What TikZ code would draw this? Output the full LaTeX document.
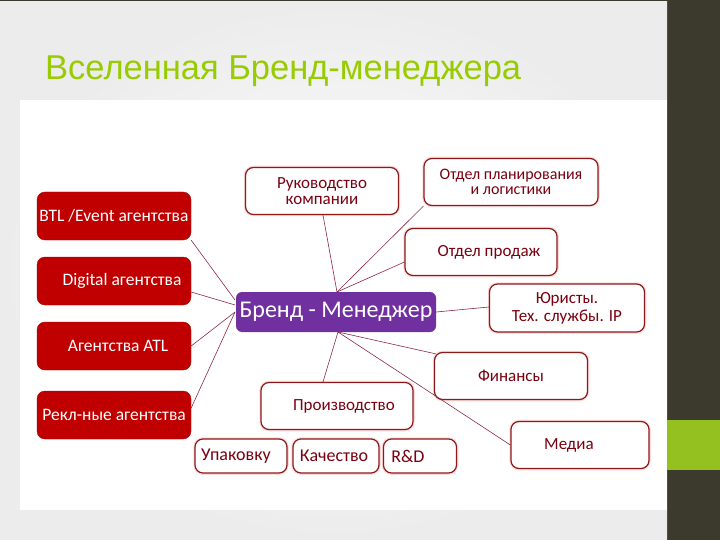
\documentclass[tikz,border=0pt]{standalone}
\usepackage{fontspec}
\setmainfont{Carlito}
\newfontfamily\carlito{Carlito}
\newfontfamily\titlefont{Liberation Sans}
\usetikzlibrary{calc}
\definecolor{darkbg}{HTML}{3C3A2C}
\definecolor{greenbar}{HTML}{94C11F}
\definecolor{titlegreen}{HTML}{99CC00}
\definecolor{boxred}{HTML}{C00000}
\definecolor{bordred}{HTML}{8B1A1A}
\definecolor{txtred}{HTML}{7A0010}
\definecolor{bmpurple}{HTML}{7030A0}
\definecolor{linkred}{HTML}{8B2A45}
\begin{document}
\begin{tikzpicture}[x=1pt,y=-1pt,
  redbox/.style={rounded corners=8pt, fill=boxred, draw=boxred!85!black, text=white,
    font=\carlito\fontsize{17.5}{19}\selectfont, inner sep=0pt,
    minimum width=154pt, minimum height=48pt},
  wbox/.style={rounded corners=8pt, fill=white, draw=bordred, line width=1.2pt,
    preaction={draw=red!15, line width=3.5pt},
    text=txtred, font=\carlito\fontsize{17}{16}\selectfont, inner sep=0pt, align=center},
  sbox/.style={wbox, font=\carlito\fontsize{18}{18}\selectfont, minimum height=34pt},
  bmbox/.style={rounded corners=6pt, fill=bmpurple, draw=none, text=white,
    font=\carlito\fontsize{24}{26}\selectfont, inner sep=0pt,
    minimum width=200pt, minimum height=40pt},
  link/.style={draw=linkred, line width=0.6pt}
]
\useasboundingbox (0,0) rectangle (720,540);
% background
\fill[darkbg] (0,0) rectangle (720,540);
\shade[inner color=white, outer color=gray!15] (0,2) rectangle (667,540);
\fill[white] (20,100) rectangle (667,510);
\fill[greenbar] (667,420) rectangle (720,470);
% title
\node[anchor=base west, text=titlegreen, font=\titlefont\fontsize{34.5}{38}\selectfont, inner sep=0pt]
  (title) at (45,80) {Вселенная Бренд-менеджера};

% convergence points
\coordinate (cl1) at (235,300);
\coordinate (cl2) at (235,305);
\coordinate (cl3) at (235,312);
\coordinate (ct) at (337,292);
\coordinate (cb) at (338,332);

\node[redbox] (btl) at (114,216) {BTL /Event агентства};
\node[redbox] (dig) at (114,281) {\hspace*{16pt}Digital агентства};
\node[redbox] (atl) at (114,346) {\hspace*{8pt}Агентства ATL};
\node[redbox] (rekl) at (114,415) {Рекл-ные агентства};

\node[wbox, minimum width=153pt, minimum height=47pt, font=\carlito\fontsize{17}{16}\selectfont] (ruk) at (322,191) {Руководство\\компании};
\node[wbox, minimum width=174pt, minimum height=47pt, font=\carlito\fontsize{16}{14.5}\selectfont] (plan) at (511,182) {Отдел планирования\\и логистики};
\node[wbox, minimum width=152pt, minimum height=47pt] (sales) at (481,252) {\hspace*{16pt}Отдел продаж};
\node[wbox, minimum width=155pt, minimum height=48pt, font=\carlito\fontsize{17}{18}\selectfont] (jur) at (567,308) {Юристы.\\Тех. службы. IP};
\node[wbox, minimum width=153pt, minimum height=47pt] (fin) at (511,376) {Финансы};
\node[wbox, minimum width=138pt, minimum height=47pt] (med) at (580,445) {Медиа\hspace*{22pt}};
\node[wbox, minimum width=152pt, minimum height=47pt] (proizv) at (337,406) {\hspace*{14pt}Производство};
\node[sbox, minimum width=92pt] (upak) at (241,456) {Упаковку\hspace*{10pt}};
\node[sbox, minimum width=86pt] (kach) at (336,456) {Качество\hspace*{4pt}};
\node[sbox, minimum width=73pt] (rd) at (420,456) {R\&D\hspace*{24pt}};

\node[bmbox] (bm) at (336,312) {Бренд - Менеджер};

\draw[link] (btl.south east) -- (cl1);
\draw[link] ($(dig.east)+(0,11)$) -- (cl2);
\draw[link] (atl.east) -- (cl3);
\draw[link] ($(rekl.east)+(0,-7)$) -- (cl3);
\draw[link] ($(ruk.south)+(1,0)$) -- (ct);
\draw[link] (plan.south west) -- (ct);
\draw[link] ($(sales.west)+(0,10)$) -- (ct);
\draw[link] (bm.east) -- ($(jur.west)+(0,-1)$);
\draw[link] (cb) -- ($(fin.north west)+(2,2)$);
\draw[link] (cb) -- (med.west);
\draw[link] (cb) -- ($(proizv.north)+(-14,0)$);
\end{tikzpicture}
\end{document}
